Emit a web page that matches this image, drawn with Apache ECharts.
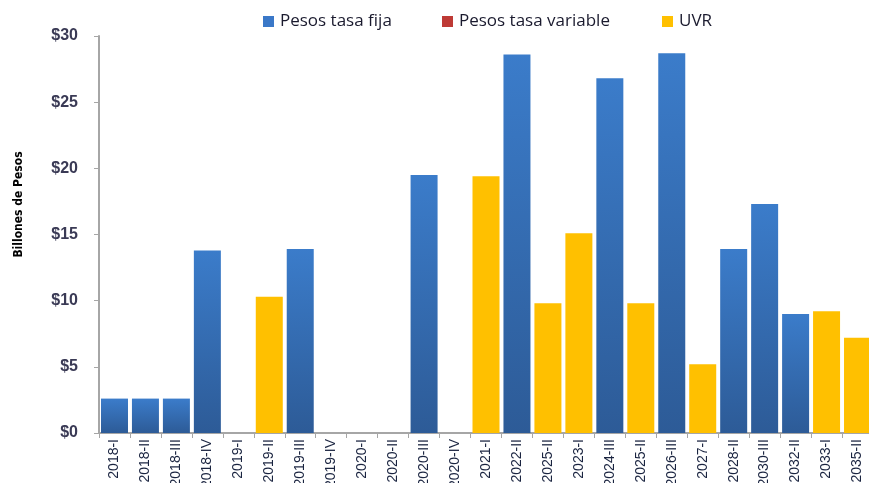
<!DOCTYPE html>
<html>
<head>
<meta charset="utf-8">
<script src="https://cdn.jsdelivr.net/npm/echarts@6/dist/echarts.min.js"></script>
<style>html,body{margin:0;padding:0;background:#fff}#c{width:869px;height:483px}</style>
</head>
<body>
<div id="c"></div>
<script>
const categories = ['2018-I','2018-II','2018-III','2018-IV','2019-I','2019-II','2019-III','2019-IV','2020-I','2020-II','2020-III','2020-IV','2021-I','2022-II','2025-II','2023-I','2024-III','2025-II','2026-III','2027-I','2028-II','2030-III','2032-II','2033-I','2035-II'];
const fija     = [2.6,2.6,2.6,13.8,0,0,13.9,0,0,0,19.5,0,0,28.6,0,0,26.8,0,28.7,0,13.9,17.3,9.0,0,0];
const variable = [0,0,0,0,0,0,0,0,0,0,0,0,0,0,0,0,0,0,0,0,0,0,0,0,0];
const uvr      = [0,0,0,0,0,10.3,0,0,0,0,0,0,19.4,0,9.8,15.1,0,9.8,0,5.2,0,0,0,9.2,7.2];
const yTicks   = [0,5,10,15,20,25,30];
const seriesNames = ['Pesos tasa fija','Pesos tasa variable','UVR'];

const blueGrad = new echarts.graphic.LinearGradient(0,0,0,1,[{offset:0,color:'#3b7cca'},{offset:1,color:'#2d5b97'}]);
const chart = echarts.init(document.getElementById('c'));
const labelFont = 'Liberation Sans';
const legendBase = {top:8, itemWidth:11, itemHeight:11, icon:'rect',
  textStyle:{fontFamily:'Open Sans', fontSize:17, color:'#1a1a2e', padding:[0,0,0,1]}};
const noZero = arr => arr.map(v => v === 0 ? '-' : v);
chart.setOption({
  animation:false,
  legend:[
    Object.assign({left:258, data:[{name:seriesNames[0], itemStyle:{color:'#3a78c8'}}]}, legendBase),
    Object.assign({left:437, data:[{name:seriesNames[1], itemStyle:{color:'#be3a35'}}]}, legendBase),
    Object.assign({left:657, data:[{name:seriesNames[2], itemStyle:{color:'#ffc000'}}]}, legendBase)
  ],
  grid:{left:99, right:-4, top:36, bottom:50, containLabel:false, outerBoundsMode:'none'},
  xAxis:{
    type:'category', data:categories,
    axisLine:{lineStyle:{color:'#a6a6a6', width:2}},
    axisTick:{show:true, length:5, lineStyle:{color:'#a6a6a6'}},
    axisLabel:{rotate:90, interval:0, margin:6, fontFamily:labelFont, fontSize:14, color:'#1a2440'}
  },
  yAxis:{
    type:'value', min:0, max:30, interval:5,
    name:'Billones de Pesos', nameLocation:'middle', nameGap:74,
    nameTextStyle:{fontFamily:'DejaVu Sans Condensed, Liberation Sans', fontWeight:'bold', fontSize:12, color:'#000', padding:[0,0,0,60]},
    splitLine:{show:false},
    axisLine:{show:true, lineStyle:{color:'#a6a6a6', width:2}},
    axisTick:{show:true, length:5, lineStyle:{color:'#a6a6a6'}},
    axisLabel:{margin:21, fontFamily:labelFont, fontWeight:'bold', fontSize:16, color:'#3a3a55',
      formatter:v => yTicks.includes(v) ? '$' + v : ''}
  },
  series:[
    {name:seriesNames[0], type:'bar', stack:'t', barWidth:27, data:noZero(fija),
      itemStyle:{color:blueGrad}},
    {name:seriesNames[1], type:'bar', stack:'t', barWidth:27, data:noZero(variable),
      itemStyle:{color:'#be3a35'}},
    {name:seriesNames[2], type:'bar', stack:'t', barWidth:27, data:noZero(uvr),
      itemStyle:{color:'#ffc000'}}
  ]
});
</script>
</body>
</html>
